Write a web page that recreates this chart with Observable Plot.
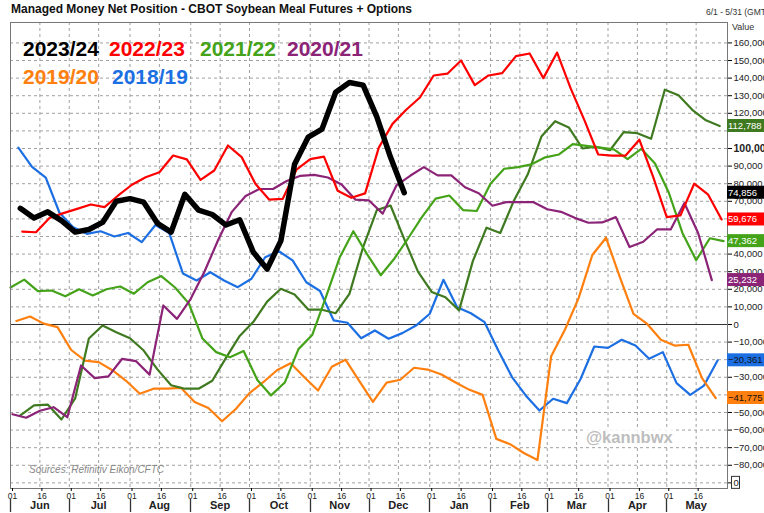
<!DOCTYPE html>
<html><head><meta charset="utf-8">
<script src="https://cdn.jsdelivr.net/npm/d3@7"></script>
<script src="https://cdn.jsdelivr.net/npm/@observablehq/plot@0.6"></script>
<style>
body{margin:0;background:#fff;font-family:"Liberation Sans",Arial,sans-serif;}
#wrap{position:relative;width:764px;height:513px;overflow:hidden;}
.abs{position:absolute;white-space:nowrap;line-height:1;}
</style></head><body><div id="wrap"></div>
<script>
// ---- data ----
const seasons = ["2023/24","2022/23","2021/22","2020/21","2019/20","2018/19","2017/18"];
const seasonColors = ["#000000","#ff0000","#44a319","#8b2377","#ff7f0f","#1c6fe3","#3f7a20"];
const firstReport = ["2023-06-06","2022-06-07","2021-06-01","2020-06-02","2019-06-04","2018-06-05","2017-06-06"];

const v2023_24 = [66000,60500,64000,59000,52500,54000,58000,70000,71500,69500,57500,52500,74000,65000,62500,56500,59500,41000,31500,47500,91000,106500,111000,132000,137500,136000,118000,95000,74856];
const v2022_23 = [52800,52400,60600,63300,65700,68200,66700,73300,79400,83700,86500,96000,93800,82200,87500,101700,95100,80000,71000,71400,88000,94000,95400,76000,72000,74500,100500,114000,122000,129000,141500,142500,150000,136000,141500,142800,152500,154000,140000,154500,134000,116000,96600,96000,96000,105000,84000,61000,62000,80000,74000,59676];
const v2021_22 = [21000,25500,19000,19300,16000,20000,16500,20000,21600,17500,24000,27500,21000,12000,-8000,-15700,-18600,-15100,-31500,-40300,-33000,-14000,-6000,15500,38000,53000,40000,28000,37500,49000,61000,71500,73300,65000,64500,80000,88500,89400,91000,95000,96600,102500,101500,100500,99500,94000,99800,91500,75000,52000,36500,49000,47362];
const v2020_21 = [-51000,-53000,-49000,-47000,-52700,-23300,-30500,-29500,-19500,-20800,-28500,10800,3200,14600,30000,48000,64000,73000,77000,77000,81500,84500,85000,83500,79500,71000,70500,63000,79000,84500,89400,84700,84700,78000,74600,67500,69500,69500,69500,65500,64000,60600,57800,58000,61000,44000,47000,54000,54000,69000,52000,25232];
const v2019_20 = [2000,4500,500,-1500,-14500,-20500,-21400,-26000,-32000,-39400,-36500,-36500,-36000,-44000,-47500,-55000,-48000,-39000,-32800,-26000,-22000,-30000,-37500,-24000,-20000,-32000,-44000,-33000,-31400,-24600,-25600,-28400,-32800,-37000,-40000,-65000,-68000,-73000,-77000,-18000,-3000,15000,39500,49300,27000,6000,300,-8700,-12000,-11500,-30500,-41775];
const v2018_19 = [100500,89500,83500,63500,55300,51500,53000,50000,52000,46800,56500,52000,29000,25000,29700,25000,21200,26000,38200,41600,36400,24000,19000,2300,1000,-7800,-3400,-8100,-4900,-600,6100,25400,9800,6400,1300,-14800,-29900,-40300,-48900,-42200,-44700,-31000,-12500,-13300,-8700,-11900,-19500,-15700,-33300,-40000,-34700,-20361];
const v2017_18 = [-51700,-46000,-45500,-54000,-42000,-8000,-600,-4400,-7800,-14800,-25500,-34500,-36500,-36500,-32000,-19000,-6500,1500,13000,20300,17000,8500,8400,6400,17400,44000,65000,67600,48500,30000,18500,15500,8000,36000,55000,52000,70500,85200,106800,115500,112000,100000,101000,99000,109300,108700,105500,133400,130200,122000,116000,112788];
const seriesValues = [v2023_24,v2022_23,v2021_22,v2020_21,v2019_20,v2018_19,v2017_18];

const yTickValues = d3.range(-90000, 160001, 10000);
const monthNames = ["Jun","Jul","Aug","Sep","Oct","Nov","Dec","Jan","Feb","Mar","Apr","May"];

// ---- build table (each season mapped onto a common Jun 1 - May 31 axis) ----
const axisStart = Date.UTC(2023,5,1);
const DAY = 864e5;
const rows = [];
seasons.forEach((s, k) => {
  const first = new Date(firstReport[k] + "T00:00:00Z");
  const seasonJun1 = Date.UTC(first.getUTCFullYear(),5,1);
  const offset = Math.round((first - seasonJun1) / DAY);
  seriesValues[k].forEach((v, i) => {
    rows.push({season: s, date: new Date(axisStart + (offset + 7*i)*DAY), value: v, k});
  });
});

const monthStarts = d3.utcMonth.range(new Date(Date.UTC(2023,5,1)), new Date(Date.UTC(2024,5,1)));
const gridDates = monthStarts.flatMap(m => [m, new Date(m.getTime() + 15*DAY)]);
const midDates = monthStarts.map(m => new Date(m.getTime() + 15*DAY));

const drawOrder = [5,4,6,2,3,1,0];
const lastValues = seriesValues.map(v => v[v.length - 1]);

const chart = Plot.plot({
  width: 764, height: 513,
  marginTop: 22, marginBottom: 25, marginLeft: 10, marginRight: 37,
  style: {fontFamily: '"Liberation Sans", Arial, sans-serif', background: "transparent", overflow: "visible"},
  x: {type: "utc", domain: [new Date(axisStart), new Date(Date.UTC(2024,5,1))]},
  y: {domain: [-93200, 171600]},
  marks: [
    Plot.ruleY(yTickValues.filter(d => d !== 0), {stroke: "#a0a0a0", strokeDasharray: "3,3", strokeWidth: 1}),
    Plot.ruleX(gridDates, {stroke: "#a0a0a0", strokeDasharray: "3,3", strokeWidth: 1}),
    Plot.ruleY([0], {stroke: "#333", strokeWidth: 1.2}),
    ...drawOrder.map(k => Plot.line(rows.filter(r => r.k === k), {
      x: "date", y: "value", stroke: seasonColors[k],
      strokeWidth: k === 0 ? 5.5 : 2.2, strokeLinejoin: "round", strokeLinecap: "round"
    })),
    Plot.frame({stroke: "#777", strokeWidth: 1}),
    Plot.axisY({anchor: "right", ticks: yTickValues, tickSize: 4, tickPadding: 2, label: null,
      tickFormat: d => d === -90000 ? "0" : (lastValues.some(l => Math.abs(l - d) < 4200) ? "" : d3.format(",")(d)),
      fontSize: 9.5, fill: "#222"}),
    Plot.axisX({ticks: gridDates, tickSize: 3, tickPadding: 1, label: null,
      tickFormat: d => d3.utcFormat("%d")(d), fontSize: 8.5, fill: "#222", dx: 2}),
    Plot.axisX({ticks: midDates, tickSize: 0, tickPadding: 13, label: null,
      tickFormat: (d, i) => monthNames[i], fontSize: 11, fontWeight: "bold", fill: "#222"})
  ]
});

const wrap = document.getElementById("wrap");
chart.style.position = "absolute";
chart.style.left = "0px";
chart.style.top = "0px";
wrap.appendChild(chart);

const svg = d3.select(chart);
const xs = chart.scale("x"), ys = chart.scale("y");

// month separators
monthStarts.forEach(m => {
  const x = Math.round(xs.apply(m)) + 0.5;
  svg.append("line").attr("x1", x).attr("x2", x).attr("y1", 499).attr("y2", 512)
    .attr("stroke", "#333").attr("stroke-width", 1.3);
});

// bold 100,000
svg.selectAll("text").filter(function(){ return this.textContent === "100,000"; })
  .attr("font-weight", "bold").attr("font-size", 10.5);

// boxed bottom "0"
{
  const y0 = ys.apply(-90000);
  svg.append("rect").attr("x", 731.5).attr("y", y0 - 6).attr("width", 8).attr("height", 12)
    .attr("fill", "none").attr("stroke", "#333").attr("stroke-width", 1);
}

// end-value labels
const labelText = ["#fff","#fff","#fff","#fff","#111","#111","#fff"];
seasons.forEach((s, k) => {
  const last = lastValues[k];
  const y = ys.apply(last);
  svg.append("rect").attr("x", 727).attr("y", y - 6.5).attr("width", 40).attr("height", 13).attr("fill", seasonColors[k]);
  svg.append("text").attr("x", 728).attr("y", y + 3.5).attr("font-size", 9.5).attr("fill", labelText[k])
    .attr("text-anchor", "start")
    .attr("font-family", '"Liberation Sans", Arial, sans-serif').text(d3.format(",")(last));
});

// HTML text overlays
function addText(txt, css) {
  const d = document.createElement("div");
  d.className = "abs";
  d.textContent = txt;
  Object.assign(d.style, css);
  wrap.appendChild(d);
  return d;
}
addText("Managed Money Net Position - CBOT Soybean Meal Futures + Options", {left: "11px", top: "3px", fontSize: "12px", fontWeight: "bold", color: "#111"});
addText("6/1 - 5/31 (GMT", {left: "706px", top: "8px", fontSize: "8.5px", color: "#333"});
addText("Value", {left: "732px", top: "23px", fontSize: "9px", color: "#333"});
const legendPos = [[23,38],[109,38],[200,38],[287,38],[23,66],[112,66]];
legendPos.forEach((p, k) => addText(seasons[k], {left: p[0] + "px", top: p[1] + "px", color: seasonColors[k], fontSize: "21px", fontWeight: "bold"}));
addText("Sources: Refinitiv Eikon/CFTC", {left: "29px", top: "465px", fontSize: "10px", fontStyle: "italic", color: "#888"});
addText("@kannbwx", {left: "586px", top: "429px", fontSize: "16.5px", fontWeight: "bold", color: "#bdbdbd", background: "rgba(255,255,255,0.85)"});
</script></body></html>
